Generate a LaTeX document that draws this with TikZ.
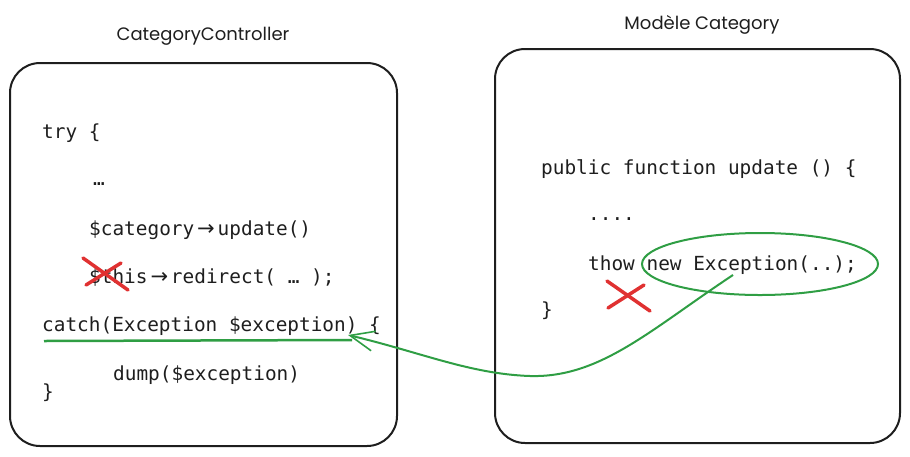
\documentclass[tikz,border=0pt]{standalone}
\usepackage{fontspec}
\setmainfont{DejaVu Sans}
\newfontfamily\codefont{DejaVu Sans Mono}
\newfontfamily\symfont{DejaVu Sans}
\newfontfamily\handfont{Poppins}
\usetikzlibrary{arrows.meta}
\definecolor{xgreen}{HTML}{2F9E44}
\definecolor{xred}{HTML}{E03131}
\definecolor{xblack}{HTML}{1E1E1E}
\newcommand{\codearrow}{\makebox[23.4pt][c]{\symfont\fontsize{21}{22}\selectfont →}}
\tikzset{
  panel/.style={draw=xblack, line width=2pt, rounded corners=30pt},
  code/.style={anchor=base west, inner sep=0pt, font=\codefont\fontsize{19.4}{22}\selectfont, text=xblack},
  title/.style={anchor=base, inner sep=0pt, font=\handfont\fontsize{18}{20}\selectfont, text=xblack},
  cross/.style={draw=xred, line width=3.5pt, line cap=round},
  greenline/.style={draw=xgreen, line width=2pt},
  flow/.style={draw=xgreen, line width=2pt, -{Straight Barb[length=24pt,width=20pt,line width=1.6pt]}}
}
\begin{document}
\begin{tikzpicture}[x=1pt,y=-1pt]
\useasboundingbox (0,0) rectangle (910,456);
% panels
\draw[panel] (10,63) rectangle (397,446);
\draw[panel] (495,49) rectangle (900,443);
% titles
\node[title] (t1) at (203,40) {CategoryController};
\node[title] (t2) at (702,29) {Modèle Category};
% left code
\node[code] (l1) at (42,138) {try \{};
\node[code] (l2) at (93,185) {…};
\node[code] (l3) at (89,235) {\$category\codearrow update()};
\node[code] (l4) at (89,283) {\$this\codearrow redirect( … );};
\node[code] (l5) at (42,331) {catch(Exception \$exception) \{};
\node[code] (l6) at (113,380) {dump(\$exception)};
\node[code] (l7) at (42,398) {\}};
% right code
\node[code] (r1) at (541,174) {public function update () \{};
\node[code] (r2) at (588,220) {....};
\node[code] (r3) at (588,270) {thow new Exception(..);};
\node[code] (r4) at (541,316) {\}};
% red crosses
\draw[cross] (83,258) -- (128,290);
\draw[cross] (86,285) -- (121,263);
\draw[cross] (607,281) -- (650,311);
\draw[cross] (608,308) -- (644,285);
% green ellipse around new Exception
\draw[greenline] (760,264) ellipse [x radius=118, y radius=31];
\coordinate (src) at (733,275);
\coordinate (dst) at (348,335);
% green underline
\coordinate (u1) at (44,341);
\coordinate (u2) at (352,340);
\draw[greenline, line width=2.5pt] (u1) -- (u2);
% flow arrow
\draw[flow] (src) .. controls (650,330) and (600,378) .. (530,376)
   .. controls (470,374) and (420,352) .. (dst);
\end{tikzpicture}
\end{document}
